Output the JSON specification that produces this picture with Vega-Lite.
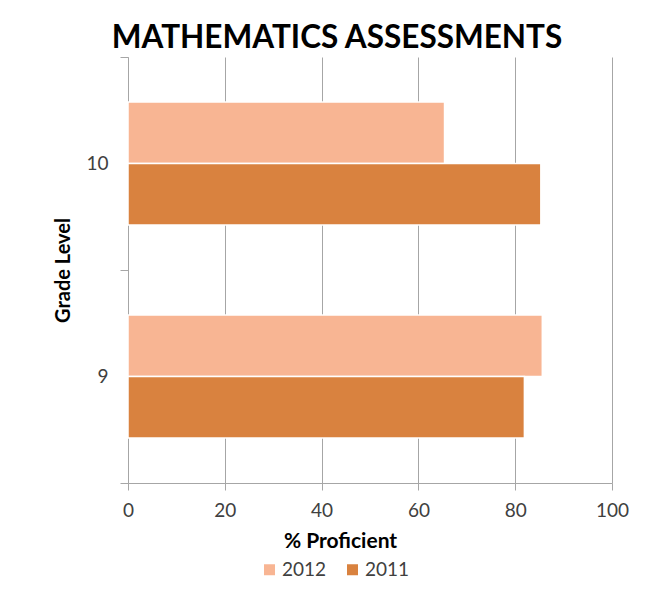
{
  "$schema": "https://vega.github.io/schema/vega-lite/v6.json",
  "width": 484,
  "height": 426,
  "autosize": "none",
  "padding": {"left": 128, "top": 57, "right": 42, "bottom": 114},
  "background": "white",
  "title": {
    "text": "MATHEMATICS  ASSESSMENTS",
    "font": "Lato",
    "fontSize": 31.5,
    "fontWeight": "bold",
    "color": "#000000",
    "anchor": "middle",
    "baseline": "alphabetic",
    "dx": -33,
    "dy": 40,
    "offset": 9
  },
  "data": {
    "values": [
      {"grade": "10", "year": "2012", "pct": 65.4},
      {"grade": "10", "year": "2011", "pct": 85.3},
      {"grade": "9", "year": "2012", "pct": 85.6},
      {"grade": "9", "year": "2011", "pct": 81.9}
    ]
  },
  "mark": {"type": "bar", "stroke": "white", "strokeWidth": 1.5},
  "encoding": {
    "y": {
      "field": "grade",
      "type": "ordinal",
      "sort": ["10", "9"],
      "scale": {"paddingInner": 0, "paddingOuter": 0},
      "axis": {
        "title": "Grade Level",
        "titleFont": "Lato",
        "titleFontSize": 20,
        "titleFontWeight": "bold",
        "titleColor": "#000000",
        "titlePadding": 12,
        "labelFont": "Lato",
        "labelFontSize": 19,
        "labelColor": "#404040",
        "labelAngle": 0,
        "labelPadding": 12,
        "tickBand": "extent",
        "tickSize": 8,
        "tickColor": "#a6a6a6",
        "domainColor": "#a6a6a6",
        "grid": false
      }
    },
    "yOffset": {
      "field": "year",
      "type": "nominal",
      "sort": ["2012", "2011"],
      "scale": {"paddingInner": 0, "paddingOuter": 0.73}
    },
    "x": {
      "field": "pct",
      "type": "quantitative",
      "scale": {"domain": [0, 100], "nice": false},
      "axis": {
        "title": "% Proficient",
        "titleFont": "Lato",
        "titleFontSize": 21,
        "titleFontWeight": "bold",
        "titleColor": "#000000",
        "titleX": 212,
        "titleY": 64,
        "titleAlign": "center",
        "titleBaseline": "alphabetic",
        "values": [0, 20, 40, 60, 80, 100],
        "labelFont": "Lato",
        "labelFontSize": 19,
        "labelColor": "#404040",
        "labelPadding": 11,
        "labelFlush": false,
        "tickSize": 7,
        "tickColor": "#a6a6a6",
        "domainColor": "#a6a6a6",
        "grid": true,
        "gridColor": "#a6a6a6"
      }
    },
    "color": {
      "field": "year",
      "type": "nominal",
      "scale": {"domain": ["2012", "2011"], "range": ["#F8B593", "#D9823F"]},
      "legend": {
        "title": null,
        "orient": "none",
        "direction": "horizontal",
        "legendX": 132,
        "legendY": 503,
        "symbolType": "square",
        "symbolSize": 121,
        "symbolStrokeWidth": 0,
        "labelFont": "Lato",
        "labelFontSize": 19,
        "labelColor": "#404040",
        "labelOffset": 3,
        "columnPadding": 16
      }
    }
  },
  "config": {"view": {"stroke": null}}
}
